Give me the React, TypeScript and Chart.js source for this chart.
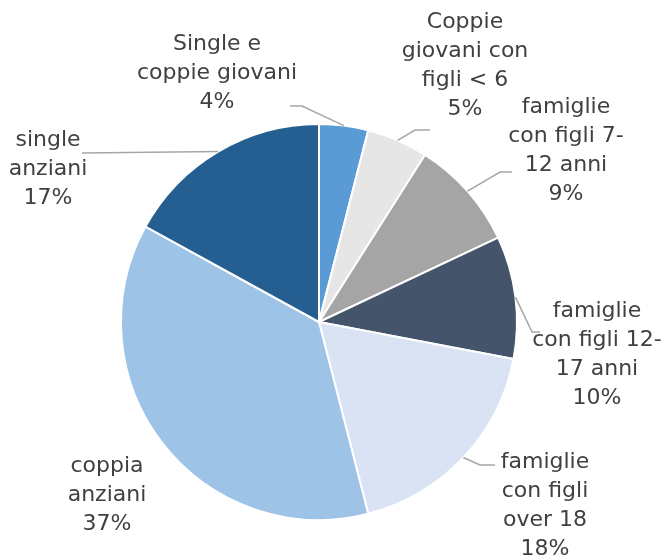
import React, { useEffect, useRef } from "react";
import { Chart, registerables } from "chart.js";

Chart.register(...registerables);

const categories: string[][] = [
  ["Single e", "coppie giovani"],
  ["Coppie", "giovani con", "figli < 6"],
  ["famiglie", "con figli 7-", "12 anni"],
  ["famiglie", "con figli 12-", "17 anni"],
  ["famiglie", "con figli", "over 18"],
  ["coppia", "anziani"],
  ["single", "anziani"],
];
const values: number[] = [4, 5, 9, 10, 18, 37, 17];
const colors: string[] = ["#5B9BD5", "#E7E6E6", "#A5A5A5", "#44546A", "#DAE3F3", "#9DC3E6", "#255E91"];

// label layout: centre x of text block, baseline-centre y of first line, leader elbow + end
const labelLayout = [
  { x: 217, y: 44, leader: [[302, 106], [290, 106]] },
  { x: 465, y: 22, leader: [[415, 130], [430, 130]] },
  { x: 566, y: 107, leader: [[500, 172], [512, 172]] },
  { x: 597, y: 311, leader: [[532, 332], [540, 332]] },
  { x: 545, y: 462, leader: [[480, 465], [495, 465]] },
  { x: 107, y: 466, leader: null },
  { x: 48, y: 140, leader: [[82, 153], [82, 153]] },
];

const FONT = "22px 'DejaVu Sans'";
const LINE_H = 29;

const labelPlugin = {
  id: "outLabels",
  afterDatasetsDraw(chart: any) {
    const meta = chart.getDatasetMeta(0);
    const ctx = chart.ctx;
    ctx.save();
    meta.data.forEach((arc: any, i: number) => {
      const lay = labelLayout[i];
      const { x, y, startAngle, endAngle, outerRadius } = arc.getProps(
        ["x", "y", "startAngle", "endAngle", "outerRadius"],
        true
      );
      if (lay.leader) {
        const mid = (startAngle + endAngle) / 2;
        const ax = x + Math.cos(mid) * outerRadius;
        const ay = y + Math.sin(mid) * outerRadius;
        ctx.beginPath();
        ctx.strokeStyle = "#A6A6A6";
        ctx.lineWidth = 1.5;
        ctx.moveTo(ax, ay);
        lay.leader.forEach((p: number[]) => ctx.lineTo(p[0], p[1]));
        ctx.stroke();
      }
      const lines = [...categories[i], values[i] + "%"];
      ctx.fillStyle = "#404040";
      ctx.font = FONT;
      ctx.textAlign = "center";
      ctx.textBaseline = "middle";
      lines.forEach((t, k) => ctx.fillText(t, lay.x, lay.y + k * LINE_H));
    });
    ctx.restore();
  },
};

export default function App() {
  const ref = useRef<HTMLCanvasElement | null>(null);
  useEffect(() => {
    if (!ref.current) return;
    const chart = new Chart(ref.current, {
      type: "pie",
      data: {
        labels: categories.map((c) => c.join(" ")),
        datasets: [
          {
            data: values,
            backgroundColor: colors,
            borderColor: "#FFFFFF",
            borderWidth: 2,
          },
        ],
      },
      options: {
        animation: false,
        responsive: false,
        layout: { padding: { left: 120, right: 143, top: 123, bottom: 35 } },
        plugins: { legend: { display: false }, tooltip: { enabled: false } },
      },
      plugins: [labelPlugin],
    });
    return () => chart.destroy();
  }, []);
  return (
    <div style={{ position: "fixed", left: 0, top: 0, width: 661, height: 556, background: "#fff" }}>
      <canvas ref={ref} width={661} height={556} />
    </div>
  );
}
